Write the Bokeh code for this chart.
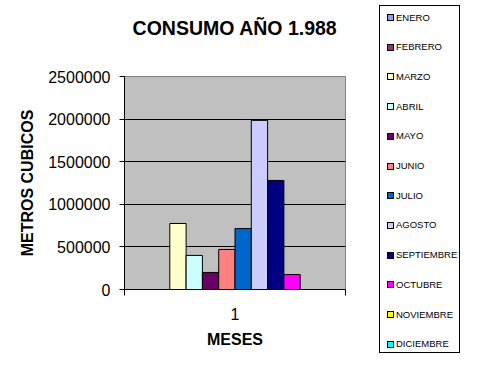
from bokeh.plotting import figure
from bokeh.layouts import row
from bokeh.models import FixedTicker, BasicTickFormatter, Range1d, Div, Title
from bokeh.embed import file_html
from bokeh.resources import INLINE

title_text = "CONSUMO AÑO 1.988"
months = ["ENERO", "FEBRERO", "MARZO", "ABRIL", "MAYO", "JUNIO", "JULIO",
          "AGOSTO", "SEPTIEMBRE", "OCTUBRE", "NOVIEMBRE", "DICIEMBRE"]
values = [0, 0, 775000, 400000, 200000, 470000, 715000, 1985000, 1280000, 175000, 0, 0]
colors = ["#9999FF", "#993366", "#FFFFCC", "#CCFFFF", "#660066", "#FF8080",
          "#0066CC", "#CCCCFF", "#000080", "#FF00FF", "#FFFF00", "#00FFFF"]
category = [1]
y_ticks = [0, 500000, 1000000, 1500000, 2000000, 2500000]
x_label = "MESES"
y_label = "METROS CUBICOS"

FONT = "Liberation Sans"

p = figure(width=378, height=354, output_backend="svg", toolbar_location=None,
           x_range=Range1d(0.5, 1.5), y_range=Range1d(0, 2500000),
           min_border_left=124, min_border_right=33,
           min_border_top=76, min_border_bottom=65)

p.background_fill_color = "#C0C0C0"
p.border_fill_color = "white"
p.outline_line_color = "#808080"
p.outline_line_width = 1

group_width = 0.885
bar_w = group_width / len(months)
for i, (m, v, c) in enumerate(zip(months, values, colors)):
    xpos = category[0] + (i - (len(months) - 1) / 2) * bar_w
    p.vbar(x=[xpos], top=[v], bottom=0, width=bar_w, fill_color=c,
           line_color="black", line_width=1)

# blank spacer between the title and the plot area
p.add_layout(Title(text=" ", text_font_size="1px", standoff=35), "above")

# Title
p.title.text = title_text
p.title.align = "center"
p.title.text_font = FONT
p.title.text_font_size = "19.5px"
p.title.text_font_style = "bold"
p.title.text_color = "black"
p.title.standoff = 0

# Grid
p.xgrid.visible = False
p.ygrid.ticker = FixedTicker(ticks=y_ticks[1:-1])
p.ygrid.grid_line_color = "black"
p.ygrid.grid_line_width = 1

# Y axis
ya = p.yaxis[0]
ya.ticker = FixedTicker(ticks=y_ticks)
ya.formatter = BasicTickFormatter(use_scientific=False)
ya.major_tick_out = 5
ya.major_tick_in = 0
ya.minor_tick_out = 0
ya.minor_tick_in = 0
ya.axis_line_color = "black"
ya.major_tick_line_color = "black"
ya.major_label_text_font = FONT
ya.major_label_text_font_size = "16px"
ya.major_label_text_color = "black"
ya.major_label_standoff = 9
ya.axis_label = y_label
ya.axis_label_text_font = FONT
ya.axis_label_text_font_size = "16px"
ya.axis_label_text_font_style = "bold"
ya.axis_label_text_color = "black"
ya.axis_label_standoff = 9

# X axis
xa = p.xaxis[0]
xa.ticker = FixedTicker(ticks=category, minor_ticks=[0.5, 1.5])
xa.major_tick_out = 0
xa.major_tick_in = 0
xa.minor_tick_out = 6
xa.minor_tick_in = 0
xa.minor_tick_line_color = "black"
xa.axis_line_color = "black"
xa.major_label_text_font = FONT
xa.major_label_text_font_size = "16px"
xa.major_label_text_color = "black"
xa.major_label_standoff = 12
xa.axis_label = x_label
xa.axis_label_text_font = FONT
xa.axis_label_text_font_size = "16px"
xa.axis_label_text_font_style = "bold"
xa.axis_label_text_color = "black"
xa.axis_label_standoff = 8

# Legend (HTML, at the right of the chart)
item_step = 29.7
first_center = 16.5
entries = []
for i, (m, c) in enumerate(zip(months, colors)):
    top = first_center + i * item_step - 6 - 5
    entries.append(
        f'<div style="position:absolute;left:7px;top:{top:.1f}px;height:12px;'
        f'line-height:12px;white-space:nowrap;display:flex;align-items:center;">'
        f'<span style="display:inline-block;box-sizing:border-box;width:7px;height:7px;'
        f'background:{c};border:1px solid #000;margin-right:2px;"></span>'
        f'<span>{m}</span></div>'
    )
legend_html = (
    f'<div style="position:relative;box-sizing:border-box;width:81px;height:348px;'
    f'margin-top:5px;margin-left:1px;border:1px solid #000;background:#fff;'
    f'font-family:\'{FONT}\';font-size:9.5px;color:#000;">' + "".join(entries) + '</div>'
)
legend_div = Div(text=legend_html, width=83, height=354, margin=0)

layout = row(p, legend_div)
open("out.html", "w").write(file_html(layout, INLINE))
